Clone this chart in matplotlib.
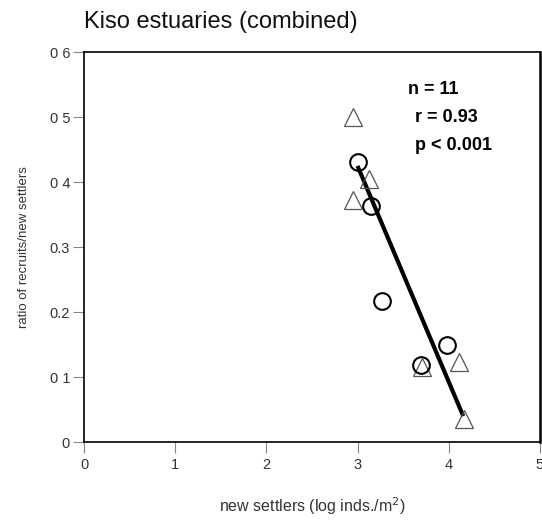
import numpy as np
from matplotlib import pyplot as plt

# new settlers (log inds./m2) vs ratio of recruits/new settlers
tri_x = [2.95, 3.13, 2.95, 3.71, 4.11, 4.17]
tri_y = [0.500, 0.405, 0.372, 0.115, 0.124, 0.036]
circ_x = [3.01, 3.15, 3.27, 3.70, 3.98]
circ_y = [0.431, 0.363, 0.217, 0.119, 0.149]

# regression line end points
fit_x = [3.00, 4.16]
fit_y = [0.425, 0.040]

xticks = [0, 1, 2, 3, 4, 5]
yticks = [0, 0.1, 0.2, 0.3, 0.4, 0.5, 0.6]
ytick_labels = ['0', '0 1', '0.2', '0.3', '0 4', '0 5', '0 6']

plt.rcParams['font.family'] = ['Liberation Sans', 'DejaVu Sans']

fig = plt.figure(figsize=[5.42, 5.22], dpi=100)
ax = fig.add_axes([0.155, 0.153, 0.841, 0.747])
gray = '#555555'

ax.plot(fit_x, fit_y, color='black', lw=3, solid_capstyle='butt', zorder=2)
ax.plot(tri_x, tri_y, ls='none', marker='^', ms=13, mfc='none',
        mec=gray, mew=0.9, zorder=3)
ax.plot(circ_x, circ_y, ls='none', marker='o', ms=12, mfc='none',
        mec='black', mew=1.5, zorder=4)

ax.set_xlim(0, 5)
ax.set_ylim(0, 0.6)
ax.set_xticks(xticks)
ax.set_yticks(yticks)
ax.set_yticklabels(ytick_labels)
ax.tick_params(direction='out', length=8, width=0.8, color='#888888',
               labelcolor='#333333', labelsize=10.5)
ax.tick_params(axis='y', pad=2)
for s in ax.spines.values():
    s.set_color('black')
    s.set_linewidth(1.2)
ax.spines['right'].set_linewidth(1.8)

ax.text(0.711, 0.905, 'n = 11', transform=ax.transAxes, fontsize=13,
        fontweight='bold', ha='left', va='center')
ax.text(0.726, 0.833, 'r = 0.93', transform=ax.transAxes, fontsize=13,
        fontweight='bold', ha='left', va='center')
ax.text(0.726, 0.762, 'p < 0.001', transform=ax.transAxes, fontsize=13,
        fontweight='bold', ha='left', va='center')

fig.text(0.155, 0.958, 'Kiso estuaries (combined)', fontsize=17,
         ha='left', va='center', color='#111111')
ax.set_xlabel('new settlers (log inds./m$^2$)', fontsize=11.5,
              color='#333333', labelpad=17)
ax.set_ylabel('ratio of recruits/new settlers', fontsize=9.5,
              color='#333333', labelpad=14)

fig.savefig('out.png', dpi=100, facecolor='white')
